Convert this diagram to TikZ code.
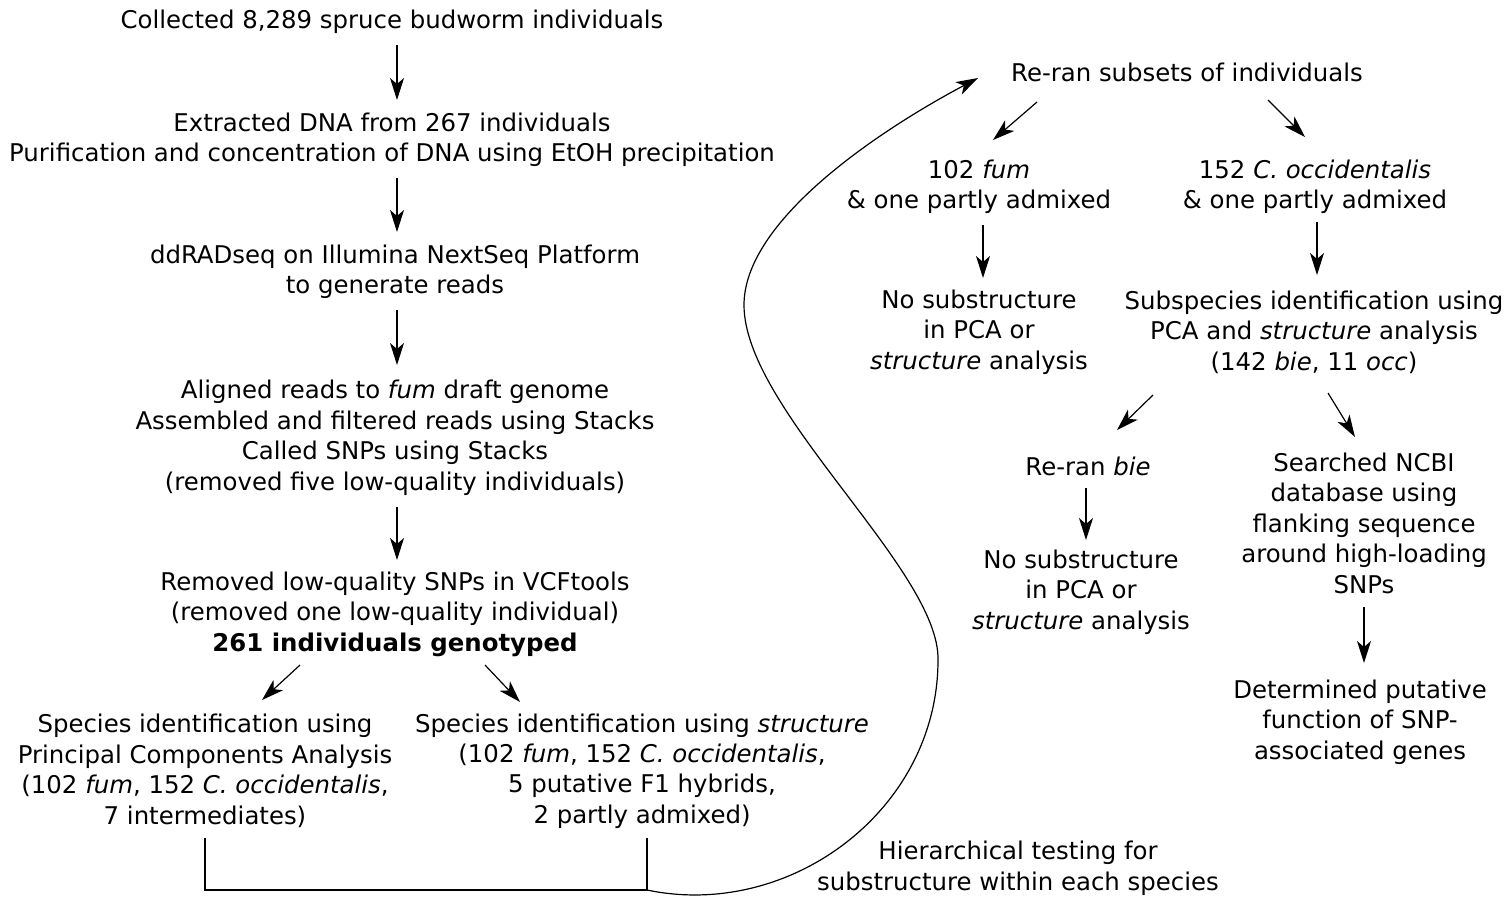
\documentclass[tikz,border=0pt]{standalone}
\usepackage{fontspec}
\setmainfont{DejaVu Sans}
\usetikzlibrary{arrows.meta}
\begin{document}
\begin{tikzpicture}[x=0.5pt,y=-0.5pt,
  txt/.style={align=center, inner sep=0pt, font=\fontsize{12.2}{15.25}\selectfont},
  arr/.style={-{Stealth[length=11pt,width=7pt,inset=3pt]}, line width=0.6pt},
  plain/.style={line width=0.6pt}]
\useasboundingbox (0,0) rectangle (1510,896);
% left column
\node[txt] (n1) at (392,22) {Collected 8,289 spruce budworm individuals};
\node[txt] (n2) at (392,140) {Extracted DNA from 267 individuals\\Purification and concentration of DNA using EtOH precipitation};
\node[txt] (n3) at (395,272) {ddRADseq on Illumina NextSeq Platform\\to generate reads};
\node[txt] (n4) at (395,438) {Aligned reads to \textit{fum} draft genome\\Assembled and filtered reads using Stacks\\Called SNPs using Stacks\\(removed five low-quality individuals)};
\node[txt] (n5) at (395,614) {Removed low-quality SNPs in VCFtools\\(removed one low-quality individual)\\\textbf{261 individuals genotyped}};
\node[txt] (n6) at (205,771) {Species identification using\\Principal Components Analysis\\(102 \textit{fum}, 152 \textit{C. occidentalis},\\7 intermediates)};
\node[txt] (n7) at (642,771) {Species identification using \textit{structure}\\(102 \textit{fum}, 152 \textit{C. occidentalis},\\5 putative F1 hybrids,\\2 partly admixed)};
% right side
\node[txt] (r1) at (1187,72) {Re-ran subsets of individuals};
\node[txt] (r2) at (979,187) {102 \textit{fum}\\\& one partly admixed};
\node[txt] (r3) at (1315,187) {152 \textit{C. occidentalis}\\\& one partly admixed};
\node[txt] (r4) at (979,332) {No substructure\\in PCA or\\\textit{structure} analysis};
\node[txt] (r5) at (1314,332) {Subspecies identification using\\PCA and \textit{structure} analysis\\(142 \textit{bie}, 11 \textit{occ})};
\node[txt] (r6) at (1088,466) {Re-ran \textit{bie}};
\node[txt] (r7) at (1081,592) {No substructure\\in PCA or\\\textit{structure} analysis};
\node[txt] (r8) at (1364,523) {Searched NCBI\\database using\\flanking sequence\\around high-loading\\SNPs};
\node[txt] (r9) at (1360,722) {Determined putative\\function of SNP-\\associated genes};
\node[txt] (lab) at (1018,868) {Hierarchical testing for\\substructure within each species};
% arrows left
\draw[arr] ([shift={(5,23)}]n1.center) -- ([shift={(5,-40)}]n2.center);
\draw[arr] ([shift={(5,38)}]n2.center) -- ([shift={(2,-40)}]n3.center);
\draw[arr] ([shift={(2,38)}]n3.center) -- ([shift={(2,-73)}]n4.center);
\draw[arr] ([shift={(2,69)}]n4.center) -- ([shift={(2,-54)}]n5.center);
\draw[arr] ([shift={(-95,51)}]n5.center) -- ([shift={(57,-71)}]n6.center);
\draw[arr] ([shift={(90,51)}]n5.center) -- ([shift={(-122,-69)}]n7.center);
% arrows right
\draw[arr] ([shift={(-150,30)}]r1.center) -- ([shift={(14,-47)}]r2.center);
\draw[arr] ([shift={(81,28)}]r1.center) -- ([shift={(-10,-50)}]r3.center);
\draw[arr] ([shift={(4,38)}]r2.center) -- ([shift={(4,-54)}]r4.center);
\draw[arr] ([shift={(2,35)}]r3.center) -- ([shift={(3,-57)}]r5.center);
\draw[arr] ([shift={(-161,63)}]r5.center) -- ([shift={(29,-36)}]r6.center);
\draw[arr] ([shift={(14,61)}]r5.center) -- ([shift={(-9,-86)}]r8.center);
\draw[arr] ([shift={(-2,22)}]r6.center) -- ([shift={(5,-52)}]r7.center);
\draw[arr] ([shift={(0,84)}]r8.center) -- ([shift={(4,-59)}]r9.center);
% bracket and curve
\draw[plain] ([shift={(0,67)}]n6.center) -- ([shift={(0,119)}]n6.center) -- ([shift={(5,119)}]n7.center) -- ([shift={(5,67)}]n7.center);
\draw[arr] ([shift={(5,119)}]n7.center) .. controls (790,920) and (938,810) .. (938,660)
  .. controls (940,570) and (744,410) .. (744,305)
  .. controls (744,220) and (880,130) .. ([shift={(-209,6)}]r1.center);
\end{tikzpicture}
\end{document}
